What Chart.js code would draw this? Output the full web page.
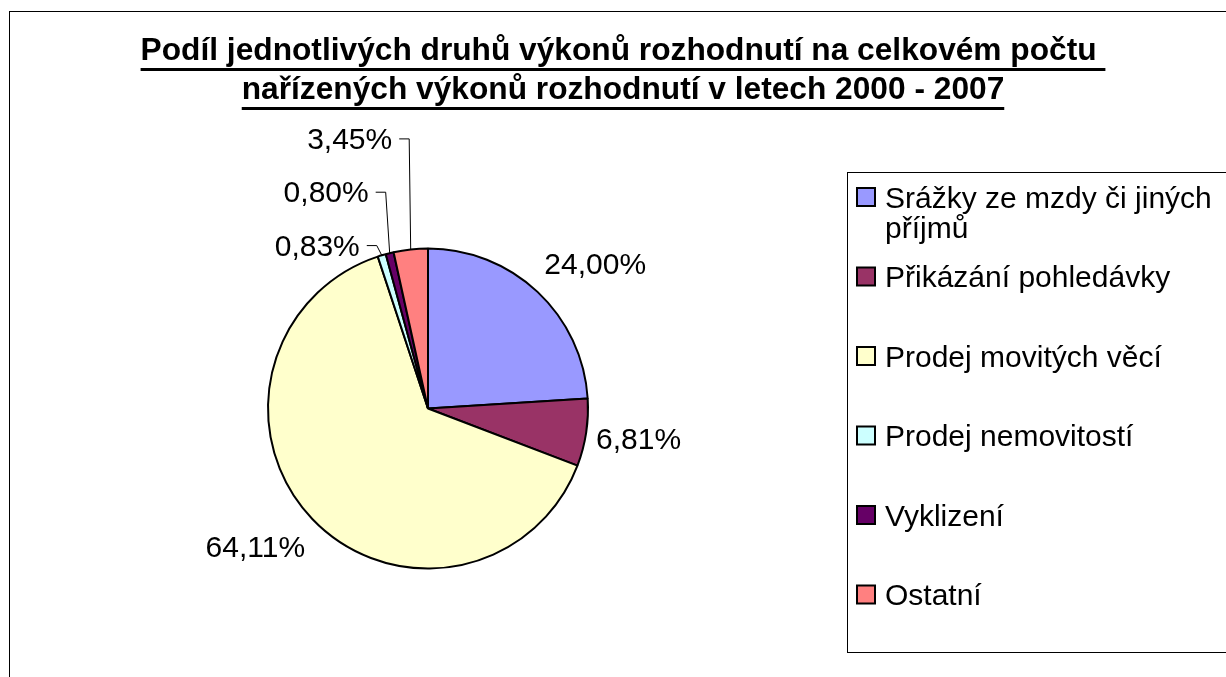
<!DOCTYPE html>
<html><head><meta charset="utf-8">
<script src="https://cdn.jsdelivr.net/npm/chart.js@4/dist/chart.umd.min.js"></script>
<style>html,body{margin:0;padding:0;background:#fff}#wrap{width:1226px;height:677px;position:relative}</style>
</head><body><div id="wrap"><canvas id="c" width="1226" height="677"></canvas></div>
<script>
// ---- data ----
const titleLines = ['Podíl jednotlivých druhů výkonů rozhodnutí na celkovém počtu ', 'nařízených výkonů rozhodnutí v letech 2000 - 2007'];
const categories = ['Srážky ze mzdy či jiných příjmů', 'Přikázání pohledávky', 'Prodej movitých věcí', 'Prodej nemovitostí', 'Vyklizení', 'Ostatní'];
const shares = [24.00, 6.81, 64.11, 0.83, 0.80, 3.45];
const sliceColors = ['#9999FF', '#993366', '#FFFFCC', '#CCFFFF', '#660066', '#FF8080'];

// ---- label layout (style) ----
const leaderRise = [null, null, null, 0.064, 0.384, 0.694]; // in radius units, null = no leader
const leaderShift = [0, 0, 0, 5, 4, 1.5];                     // px
const FONT = '"Liberation Sans", Arial, Helvetica, sans-serif';

function fmt(v) { return v.toFixed(2).replace('.', ',') + '%'; }

function wrapText(ctx, text, maxW) {
  const words = text.split(' ');
  const lines = [];
  let cur = '';
  words.forEach(w => {
    const t = cur ? cur + ' ' + w : w;
    if (ctx.measureText(t).width > maxW && cur) { lines.push(cur); cur = w; } else cur = t;
  });
  if (cur) lines.push(cur);
  return lines;
}

const deco = {
  id: 'deco',
  beforeDraw(chart) {
    const ctx = chart.ctx;
    ctx.save();
    ctx.fillStyle = '#fff';
    ctx.fillRect(0, 0, chart.width, chart.height);
    ctx.strokeStyle = '#000';
    ctx.lineWidth = 1;
    ctx.strokeRect(9.5, 11.5, chart.width + 20, chart.height + 20);
    ctx.restore();
  },
  afterDraw(chart) {
    const ctx = chart.ctx;
    ctx.save();
    // title
    ctx.fillStyle = '#000';
    ctx.font = 'bold 31.7px ' + FONT;
    ctx.textBaseline = 'alphabetic';
    ctx.textAlign = 'left';
    const tcx = 623;
    titleLines.forEach((t, k) => {
      const w = ctx.measureText(t).width;
      const x0 = tcx - w / 2;
      const by = 60 + k * 39;
      ctx.fillText(t, x0, by);
      ctx.fillRect(x0, by + 8, w, 3);
    });

    // legend
    const boxL = 847.5, boxT = 172.5, boxB = 652.5;
    ctx.strokeStyle = '#000';
    ctx.lineWidth = 1;
    ctx.strokeRect(boxL, boxT, chart.width + 20 - boxL, boxB - boxT);
    ctx.font = '30px ' + FONT;
    const textX = 885, pitch = 79.5, firstCenter = 197, lineH = 30;
    const ds = chart.data.datasets[0];
    chart.data.labels.forEach((lab, i) => {
      const lines = wrapText(ctx, lab, chart.width - textX - 6);
      const cy = firstCenter + i * pitch;
      ctx.fillStyle = ds.backgroundColor[i];
      ctx.fillRect(857, cy - 9, 18, 18);
      ctx.strokeStyle = '#000';
      ctx.lineWidth = 2;
      ctx.strokeRect(857, cy - 9, 18, 18);
      ctx.fillStyle = '#000';
      lines.forEach((ln, k) => ctx.fillText(ln, textX, cy + 10.5 + k * lineH));
    });

    // data labels
    const meta = chart.getDatasetMeta(0);
    ctx.font = '30px ' + FONT;
    const capH = 21.5;
    meta.data.forEach((arc, i) => {
      const p = arc.getProps(['x', 'y', 'startAngle', 'endAngle', 'outerRadius'], true);
      const mid = (p.startAngle + p.endAngle) / 2;
      const c = Math.cos(mid), s = Math.sin(mid);
      const r = p.outerRadius;
      const txt = fmt(ds.data[i]);
      const w = ctx.measureText(txt).width;
      ctx.fillStyle = '#000';
      if (leaderRise[i] == null) {
        const ax = p.x + c * (r + 10), ay = p.y + s * (r + 10);
        const cx = ax + Math.sign(c) * w / 2;
        const cy = ay + s * capH * 1.35;
        ctx.textAlign = 'center';
        ctx.fillText(txt, cx, cy + capH / 2);
      } else {
        const ex = p.x + c * r, ey = p.y + s * r;
        const ly = ey - leaderRise[i] * r;
        const elx = ex - leaderShift[i];
        ctx.strokeStyle = '#000';
        ctx.lineWidth = 1;
        ctx.beginPath();
        ctx.moveTo(ex, ey);
        ctx.lineTo(elx, ly + 0.5);
        ctx.lineTo(elx - 10, ly + 0.5);
        ctx.stroke();
        ctx.textAlign = 'right';
        ctx.fillText(txt, elx - 17, ly + capH / 2);
      }
    });
    ctx.restore();
  }
};

new Chart(document.getElementById('c'), {
  type: 'pie',
  data: {
    labels: categories,
    datasets: [{ data: shares, backgroundColor: sliceColors, borderColor: '#000', borderWidth: 2 }]
  },
  options: {
    responsive: false,
    animation: false,
    devicePixelRatio: 1,
    events: [],
    layout: { padding: { left: 267, right: 637, top: 247.5, bottom: 107.5 } },
    plugins: { legend: { display: false }, title: { display: false }, tooltip: { enabled: false } }
  },
  plugins: [deco]
});
</script>
</body></html>
